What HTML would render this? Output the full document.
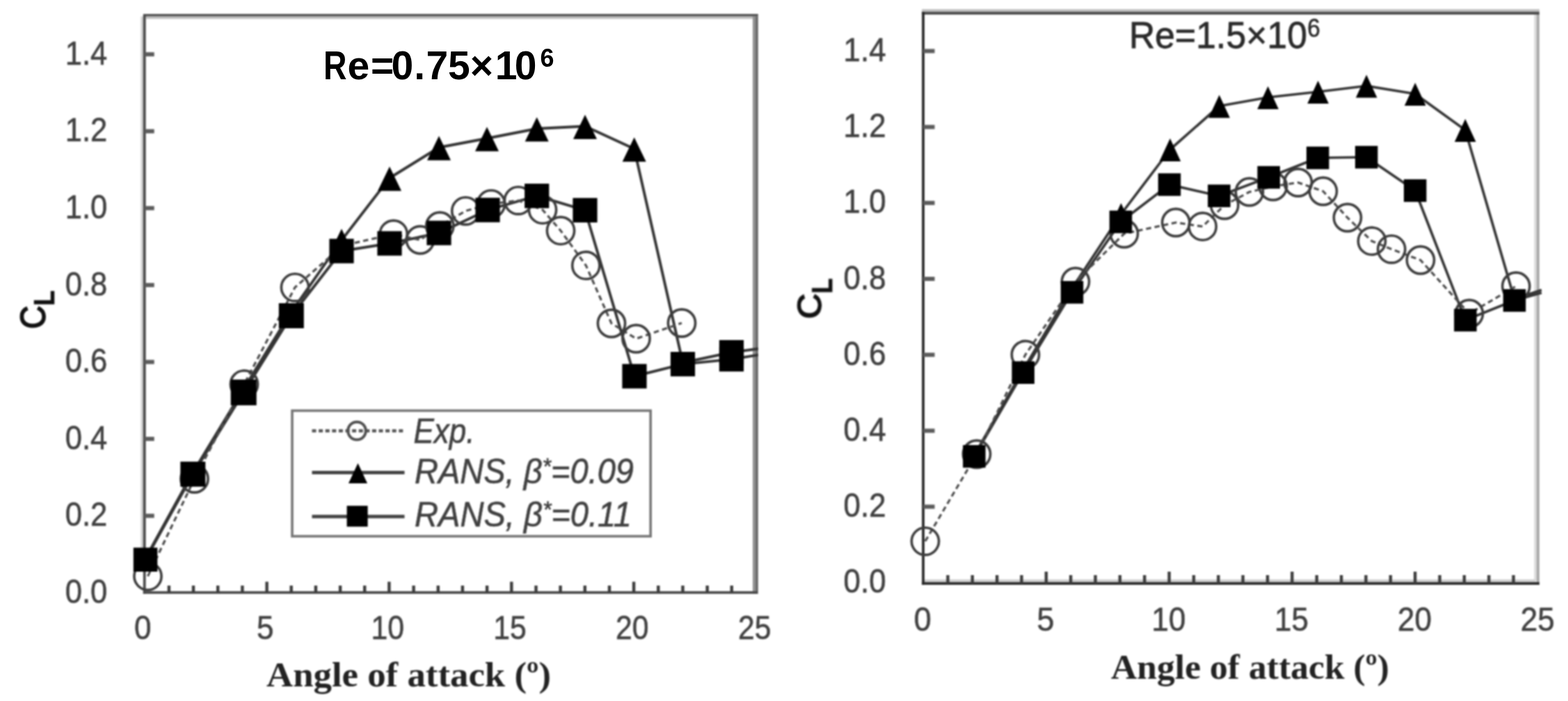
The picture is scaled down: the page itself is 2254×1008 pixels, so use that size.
<!DOCTYPE html>
<html lang="en">
<head>
<meta charset="utf-8">
<title>Lift coefficient vs angle of attack</title>
<style>
html,body{margin:0;padding:0;background:#fff;}
body{width:2254px;height:1008px;overflow:hidden;}
svg{display:block;}
.b{filter:blur(0.9px);}
</style>
</head>
<body>
<svg width="2254" height="1008" viewBox="0 0 2254 1008">
<rect x="0" y="0" width="2254" height="1008" fill="#fff"/>
<g class="b">
<rect x="202.3" y="23.7" width="3.8" height="764" fill="#d4d4d4"/>
<rect x="205.89999999999998" y="20.1" width="883.8999999999999" height="3.6" fill="#505050"/>
<rect x="209.5" y="23.7" width="872.5" height="3.5" fill="#c0c0c0"/>
<rect x="1082" y="23.7" width="3.8" height="830.1999999999999" fill="#909090"/>
<rect x="1085.8" y="23.7" width="4" height="830.1999999999999" fill="#686868"/>
<rect x="205.79999999999998" y="22.0" width="3.8" height="831.9" fill="#4a4a4a"/>
<rect x="205.79999999999998" y="850.1" width="883.0999999999999" height="3.8" fill="#4a4a4a"/>
<rect x="207.7" y="75.1" width="14" height="6" fill="#5c5c5c"/>
<text x="154.2" y="92.7" font-family='"Liberation Sans", sans-serif' font-size="48.5" font-weight="normal" font-style="normal" text-anchor="end" fill="#404040" textLength="60.5" lengthAdjust="spacingAndGlyphs" stroke="#404040" stroke-width="0.6">1.4</text>
<rect x="207.7" y="185.7" width="14" height="6" fill="#5c5c5c"/>
<text x="154.2" y="203.3" font-family='"Liberation Sans", sans-serif' font-size="48.5" font-weight="normal" font-style="normal" text-anchor="end" fill="#404040" textLength="60.5" lengthAdjust="spacingAndGlyphs" stroke="#404040" stroke-width="0.6">1.2</text>
<rect x="207.7" y="296.3" width="14" height="6" fill="#5c5c5c"/>
<text x="154.2" y="313.9" font-family='"Liberation Sans", sans-serif' font-size="48.5" font-weight="normal" font-style="normal" text-anchor="end" fill="#404040" textLength="60.5" lengthAdjust="spacingAndGlyphs" stroke="#404040" stroke-width="0.6">1.0</text>
<rect x="207.7" y="406.9" width="14" height="6" fill="#5c5c5c"/>
<text x="154.2" y="424.5" font-family='"Liberation Sans", sans-serif' font-size="48.5" font-weight="normal" font-style="normal" text-anchor="end" fill="#404040" textLength="60.5" lengthAdjust="spacingAndGlyphs" stroke="#404040" stroke-width="0.6">0.8</text>
<rect x="207.7" y="517.5" width="14" height="6" fill="#5c5c5c"/>
<text x="154.2" y="535.1" font-family='"Liberation Sans", sans-serif' font-size="48.5" font-weight="normal" font-style="normal" text-anchor="end" fill="#404040" textLength="60.5" lengthAdjust="spacingAndGlyphs" stroke="#404040" stroke-width="0.6">0.6</text>
<rect x="207.7" y="628.1" width="14" height="6" fill="#5c5c5c"/>
<text x="154.2" y="645.7" font-family='"Liberation Sans", sans-serif' font-size="48.5" font-weight="normal" font-style="normal" text-anchor="end" fill="#404040" textLength="60.5" lengthAdjust="spacingAndGlyphs" stroke="#404040" stroke-width="0.6">0.4</text>
<rect x="207.7" y="738.7" width="14" height="6" fill="#5c5c5c"/>
<text x="154.2" y="756.3" font-family='"Liberation Sans", sans-serif' font-size="48.5" font-weight="normal" font-style="normal" text-anchor="end" fill="#404040" textLength="60.5" lengthAdjust="spacingAndGlyphs" stroke="#404040" stroke-width="0.6">0.2</text>
<text x="154.2" y="866.9" font-family='"Liberation Sans", sans-serif' font-size="48.5" font-weight="normal" font-style="normal" text-anchor="end" fill="#404040" textLength="60.5" lengthAdjust="spacingAndGlyphs" stroke="#404040" stroke-width="0.6">0.0</text>
<rect x="240.7" y="842.0" width="4.4" height="10" fill="#3c3c3c"/>
<rect x="275.8" y="842.0" width="4.4" height="10" fill="#3c3c3c"/>
<rect x="311.0" y="842.0" width="4.4" height="10" fill="#3c3c3c"/>
<rect x="346.2" y="842.0" width="4.4" height="10" fill="#3c3c3c"/>
<rect x="381.4" y="836.5" width="4.4" height="15.5" fill="#3c3c3c"/>
<rect x="416.5" y="842.0" width="4.4" height="10" fill="#3c3c3c"/>
<rect x="451.7" y="842.0" width="4.4" height="10" fill="#3c3c3c"/>
<rect x="486.9" y="842.0" width="4.4" height="10" fill="#3c3c3c"/>
<rect x="522.0" y="842.0" width="4.4" height="10" fill="#3c3c3c"/>
<rect x="557.2" y="836.5" width="4.4" height="15.5" fill="#3c3c3c"/>
<rect x="592.4" y="842.0" width="4.4" height="10" fill="#3c3c3c"/>
<rect x="627.6" y="842.0" width="4.4" height="10" fill="#3c3c3c"/>
<rect x="662.7" y="842.0" width="4.4" height="10" fill="#3c3c3c"/>
<rect x="697.9" y="842.0" width="4.4" height="10" fill="#3c3c3c"/>
<rect x="733.1" y="836.5" width="4.4" height="15.5" fill="#3c3c3c"/>
<rect x="768.3" y="842.0" width="4.4" height="10" fill="#3c3c3c"/>
<rect x="803.4" y="842.0" width="4.4" height="10" fill="#3c3c3c"/>
<rect x="838.6" y="842.0" width="4.4" height="10" fill="#3c3c3c"/>
<rect x="873.8" y="842.0" width="4.4" height="10" fill="#3c3c3c"/>
<rect x="908.9" y="836.5" width="4.4" height="15.5" fill="#3c3c3c"/>
<rect x="944.1" y="842.0" width="4.4" height="10" fill="#3c3c3c"/>
<rect x="979.3" y="842.0" width="4.4" height="10" fill="#3c3c3c"/>
<rect x="1014.5" y="842.0" width="4.4" height="10" fill="#3c3c3c"/>
<rect x="1049.6" y="842.0" width="4.4" height="10" fill="#3c3c3c"/>
<text x="193.1" y="918.8" font-family='"Liberation Sans", sans-serif' font-size="48.5" font-weight="normal" font-style="normal" text-anchor="start" fill="#404040" textLength="24.5" lengthAdjust="spacingAndGlyphs" stroke="#404040" stroke-width="0.6">0</text>
<text x="369.0" y="918.8" font-family='"Liberation Sans", sans-serif' font-size="48.5" font-weight="normal" font-style="normal" text-anchor="start" fill="#404040" textLength="24.5" lengthAdjust="spacingAndGlyphs" stroke="#404040" stroke-width="0.6">5</text>
<text x="533.4" y="918.8" font-family='"Liberation Sans", sans-serif' font-size="48.5" font-weight="normal" font-style="normal" text-anchor="start" fill="#404040" textLength="47.5" lengthAdjust="spacingAndGlyphs" stroke="#404040" stroke-width="0.6">10</text>
<text x="709.2" y="918.8" font-family='"Liberation Sans", sans-serif' font-size="48.5" font-weight="normal" font-style="normal" text-anchor="start" fill="#404040" textLength="47.5" lengthAdjust="spacingAndGlyphs" stroke="#404040" stroke-width="0.6">15</text>
<text x="885.1" y="918.8" font-family='"Liberation Sans", sans-serif' font-size="48.5" font-weight="normal" font-style="normal" text-anchor="start" fill="#404040" textLength="47.5" lengthAdjust="spacingAndGlyphs" stroke="#404040" stroke-width="0.6">20</text>
<text x="1061.0" y="918.8" font-family='"Liberation Sans", sans-serif' font-size="48.5" font-weight="normal" font-style="normal" text-anchor="start" fill="#404040" textLength="47.5" lengthAdjust="spacingAndGlyphs" stroke="#404040" stroke-width="0.6">25</text>
<clipPath id="cl"><rect x="180" y="0" width="910" height="880"/></clipPath>
<g clip-path="url(#cl)">
<polyline points="208.5,804.0 276.3,681.0 347.9,562.9 416.2,452.4 491.0,345.5 560.0,256.0 631.0,212.0 700.0,199.0 771.7,185.0 841.0,181.5 911.7,214.0 981.5,521.5 1051.5,506.6 1090.0,501.5" fill="none" stroke="#343434" stroke-width="3.9" stroke-linejoin="round"/>
<polyline points="209.0,804.8 277.3,681.8 350.2,564.3 418.8,454.0 491.0,361.0 560.0,350.0 631.0,335.0 701.0,302.0 771.7,281.7 841.0,302.3 912.0,541.0 981.5,523.6 1051.5,516.6 1090.0,510.3" fill="none" stroke="#343434" stroke-width="3.9" stroke-linejoin="round"/>
<polyline points="212.5,828.6 279.5,688.5 351.0,552.5 424.0,413.3 493.0,353.0 565.7,336.7 604.0,345.0 632.3,325.0 669.3,303.3 706.0,293.3 745.0,288.3 780.0,301.7 806.0,331.7 842.3,381.7 879.0,465.0 914.5,487.0 980.0,464.5" fill="none" stroke="#4c4c4c" stroke-width="3.2" stroke-dasharray="7.5 5" stroke-linejoin="round"/>
<circle cx="212.5" cy="828.6" r="19.6" fill="none" stroke="#3c3c3c" stroke-width="3.6"/>
<circle cx="279.5" cy="688.5" r="19.6" fill="none" stroke="#3c3c3c" stroke-width="3.6"/>
<circle cx="351.0" cy="552.5" r="19.6" fill="none" stroke="#3c3c3c" stroke-width="3.6"/>
<circle cx="424.0" cy="413.3" r="19.6" fill="none" stroke="#3c3c3c" stroke-width="3.6"/>
<circle cx="565.7" cy="336.7" r="19.6" fill="none" stroke="#3c3c3c" stroke-width="3.6"/>
<circle cx="604.0" cy="345.0" r="19.6" fill="none" stroke="#3c3c3c" stroke-width="3.6"/>
<circle cx="632.3" cy="325.0" r="19.6" fill="none" stroke="#3c3c3c" stroke-width="3.6"/>
<circle cx="669.3" cy="303.3" r="19.6" fill="none" stroke="#3c3c3c" stroke-width="3.6"/>
<circle cx="706.0" cy="293.3" r="19.6" fill="none" stroke="#3c3c3c" stroke-width="3.6"/>
<circle cx="745.0" cy="288.3" r="19.6" fill="none" stroke="#3c3c3c" stroke-width="3.6"/>
<circle cx="780.0" cy="301.7" r="19.6" fill="none" stroke="#3c3c3c" stroke-width="3.6"/>
<circle cx="806.0" cy="331.7" r="19.6" fill="none" stroke="#3c3c3c" stroke-width="3.6"/>
<circle cx="842.3" cy="381.7" r="19.6" fill="none" stroke="#3c3c3c" stroke-width="3.6"/>
<circle cx="879.0" cy="465.0" r="19.6" fill="none" stroke="#3c3c3c" stroke-width="3.6"/>
<circle cx="914.5" cy="487.0" r="19.6" fill="none" stroke="#3c3c3c" stroke-width="3.6"/>
<circle cx="980.0" cy="464.5" r="19.6" fill="none" stroke="#3c3c3c" stroke-width="3.6"/>
<polygon points="491.0,329.0 508.0,364.0 474.0,364.0" fill="#000"/>
<polygon points="560.0,239.5 577.0,274.5 543.0,274.5" fill="#000"/>
<polygon points="631.0,195.5 648.0,230.5 614.0,230.5" fill="#000"/>
<polygon points="700.0,182.5 717.0,217.5 683.0,217.5" fill="#000"/>
<polygon points="771.7,168.5 788.7,203.5 754.7,203.5" fill="#000"/>
<polygon points="841.0,165.0 858.0,200.0 824.0,200.0" fill="#000"/>
<polygon points="911.7,197.5 928.7,232.5 894.7,232.5" fill="#000"/>
<rect x="191.8" y="787.5" width="34.5" height="34.5" fill="#000"/>
<rect x="259.3" y="663.8" width="36" height="36" fill="#000"/>
<rect x="331.7" y="545.8" width="37" height="37" fill="#000"/>
<rect x="400.8" y="436.0" width="36" height="36" fill="#000"/>
<rect x="473.4" y="343.4" width="35.2" height="35.2" fill="#000"/>
<rect x="542.4" y="332.4" width="35.2" height="35.2" fill="#000"/>
<rect x="613.4" y="317.4" width="35.2" height="35.2" fill="#000"/>
<rect x="683.4" y="284.4" width="35.2" height="35.2" fill="#000"/>
<rect x="754.1" y="264.1" width="35.2" height="35.2" fill="#000"/>
<rect x="823.4" y="284.7" width="35.2" height="35.2" fill="#000"/>
<rect x="894.4" y="523.4" width="35.2" height="35.2" fill="#000"/>
<rect x="963.9" y="506.0" width="35.2" height="35.2" fill="#000"/>
<rect x="1033.9" y="499.0" width="35.2" height="35.2" fill="#000"/>
<rect x="1033.9" y="489.0" width="35.2" height="35.2" fill="#000"/>
</g>
<rect x="420" y="590.5" width="515.2" height="180.6" fill="#fff" stroke="#757575" stroke-width="3.6"/>
<polyline points="448.5,619.5 581.5,619.5" fill="none" stroke="#555" stroke-width="4.6" stroke-dasharray="6 3.6" stroke-linejoin="round"/>
<circle cx="513" cy="619.5" r="12.8" fill="none" stroke="#505050" stroke-width="4"/>
<polyline points="448.5,679.5 581.5,679.5" fill="none" stroke="#444" stroke-width="5.0" stroke-linejoin="round"/>
<polygon points="514.5,666.0 528.0,695.0 501.0,695.0" fill="#000"/>
<polyline points="448.5,742.8 581.5,742.8" fill="none" stroke="#444" stroke-width="5.0" stroke-linejoin="round"/>
<rect x="498.6" y="727.3" width="30" height="30" fill="#000"/>
<text x="594.5" y="636.7" font-family='"Liberation Sans", sans-serif' font-size="50" font-weight="normal" font-style="italic" text-anchor="start" fill="#404040" textLength="88" lengthAdjust="spacingAndGlyphs" stroke="#404040" stroke-width="0.6">Exp.</text>
<text x="596" y="695.4" font-family='"Liberation Sans", sans-serif' font-size="50" font-style="italic" fill="#404040" stroke="#404040" stroke-width="0.6" textLength="315" lengthAdjust="spacingAndGlyphs">RANS, β<tspan font-size="34" dy="-13">*</tspan><tspan dy="13">=0.09</tspan></text>
<text x="596" y="757.2" font-family='"Liberation Sans", sans-serif' font-size="50" font-style="italic" fill="#404040" stroke="#404040" stroke-width="0.6" textLength="312" lengthAdjust="spacingAndGlyphs">RANS, β<tspan font-size="34" dy="-13">*</tspan><tspan dy="13">=0.11</tspan></text>
<text x="383" y="987" font-family='"Liberation Serif", serif' font-size="51" font-weight="bold" font-style="normal" text-anchor="start" fill="#222" textLength="409" lengthAdjust="spacingAndGlyphs">Angle of attack (º)</text>
<g transform="translate(65,473) rotate(-90)"><text x="0" y="0" font-family='"Liberation Sans", sans-serif' font-size="50" fill="#111" stroke="#111" stroke-width="1.8" textLength="33.5" lengthAdjust="spacingAndGlyphs">C</text><text x="33.5" y="12.3" font-family='"Liberation Sans", sans-serif' font-size="38" fill="#111" stroke="#111" stroke-width="2.4">L</text></g>
</g>
<text y="113.5" font-family='"Liberation Sans", sans-serif' font-size="57" font-weight="bold" fill="#000"><tspan x="465" textLength="33.5" lengthAdjust="spacingAndGlyphs">R</tspan><tspan x="499.4 532.9 562.6 595.2 612.4 644.0 675.7 711.7 739.8">e=0.75×10</tspan></text>
<text x="776.6" y="95.8" font-family='"Liberation Sans", sans-serif' font-size="36" font-weight="bold" fill="#000">6</text>
<g class="b">
<rect x="1325.1999999999998" y="13.2" width="887.7000000000002" height="3.8" fill="#bdbdbd"/>
<rect x="1325.1999999999998" y="17" width="887.7000000000002" height="4" fill="#4e4e4e"/>
<rect x="2205.3" y="21" width="3.6" height="819.9" fill="#dcdcdc"/>
<rect x="2208.9" y="21" width="4" height="819.9" fill="#a8a8a8"/>
<rect x="1329.0" y="833.2" width="877.9000000000001" height="4" fill="#cfcfcf"/>
<rect x="1325.1999999999998" y="17.0" width="3.8" height="823.9" fill="#2a2a2a"/>
<rect x="1325.1999999999998" y="837.1" width="887.7" height="3.8" fill="#2a2a2a"/>
<rect x="1327.1" y="70.4" width="16.5" height="6" fill="#5c5c5c"/>
<text x="1273.6" y="88.0" font-family='"Liberation Sans", sans-serif' font-size="48" font-weight="normal" font-style="normal" text-anchor="end" fill="#404040" textLength="61" lengthAdjust="spacingAndGlyphs" stroke="#404040" stroke-width="0.6">1.4</text>
<rect x="1327.1" y="179.6" width="16.5" height="6" fill="#5c5c5c"/>
<text x="1273.6" y="197.2" font-family='"Liberation Sans", sans-serif' font-size="48" font-weight="normal" font-style="normal" text-anchor="end" fill="#404040" textLength="61" lengthAdjust="spacingAndGlyphs" stroke="#404040" stroke-width="0.6">1.2</text>
<rect x="1327.1" y="288.8" width="16.5" height="6" fill="#5c5c5c"/>
<text x="1273.6" y="306.4" font-family='"Liberation Sans", sans-serif' font-size="48" font-weight="normal" font-style="normal" text-anchor="end" fill="#404040" textLength="61" lengthAdjust="spacingAndGlyphs" stroke="#404040" stroke-width="0.6">1.0</text>
<rect x="1327.1" y="398.0" width="16.5" height="6" fill="#5c5c5c"/>
<text x="1273.6" y="415.6" font-family='"Liberation Sans", sans-serif' font-size="48" font-weight="normal" font-style="normal" text-anchor="end" fill="#404040" textLength="61" lengthAdjust="spacingAndGlyphs" stroke="#404040" stroke-width="0.6">0.8</text>
<rect x="1327.1" y="507.2" width="16.5" height="6" fill="#5c5c5c"/>
<text x="1273.6" y="524.8" font-family='"Liberation Sans", sans-serif' font-size="48" font-weight="normal" font-style="normal" text-anchor="end" fill="#404040" textLength="61" lengthAdjust="spacingAndGlyphs" stroke="#404040" stroke-width="0.6">0.6</text>
<rect x="1327.1" y="616.4" width="16.5" height="6" fill="#5c5c5c"/>
<text x="1273.6" y="634.0" font-family='"Liberation Sans", sans-serif' font-size="48" font-weight="normal" font-style="normal" text-anchor="end" fill="#404040" textLength="61" lengthAdjust="spacingAndGlyphs" stroke="#404040" stroke-width="0.6">0.4</text>
<rect x="1327.1" y="725.6" width="16.5" height="6" fill="#5c5c5c"/>
<text x="1273.6" y="743.2" font-family='"Liberation Sans", sans-serif' font-size="48" font-weight="normal" font-style="normal" text-anchor="end" fill="#404040" textLength="61" lengthAdjust="spacingAndGlyphs" stroke="#404040" stroke-width="0.6">0.2</text>
<text x="1273.6" y="852.4" font-family='"Liberation Sans", sans-serif' font-size="48" font-weight="normal" font-style="normal" text-anchor="end" fill="#404040" textLength="61" lengthAdjust="spacingAndGlyphs" stroke="#404040" stroke-width="0.6">0.0</text>
<rect x="1360.3" y="827.0" width="4.4" height="12" fill="#3c3c3c"/>
<rect x="1395.6" y="827.0" width="4.4" height="12" fill="#3c3c3c"/>
<rect x="1431.0" y="827.0" width="4.4" height="12" fill="#3c3c3c"/>
<rect x="1466.3" y="827.0" width="4.4" height="12" fill="#3c3c3c"/>
<rect x="1501.7" y="822.0" width="4.4" height="17" fill="#3c3c3c"/>
<rect x="1537.0" y="827.0" width="4.4" height="12" fill="#3c3c3c"/>
<rect x="1572.4" y="827.0" width="4.4" height="12" fill="#3c3c3c"/>
<rect x="1607.7" y="827.0" width="4.4" height="12" fill="#3c3c3c"/>
<rect x="1643.1" y="827.0" width="4.4" height="12" fill="#3c3c3c"/>
<rect x="1678.5" y="822.0" width="4.4" height="17" fill="#3c3c3c"/>
<rect x="1713.8" y="827.0" width="4.4" height="12" fill="#3c3c3c"/>
<rect x="1749.2" y="827.0" width="4.4" height="12" fill="#3c3c3c"/>
<rect x="1784.5" y="827.0" width="4.4" height="12" fill="#3c3c3c"/>
<rect x="1819.9" y="827.0" width="4.4" height="12" fill="#3c3c3c"/>
<rect x="1855.2" y="822.0" width="4.4" height="17" fill="#3c3c3c"/>
<rect x="1890.6" y="827.0" width="4.4" height="12" fill="#3c3c3c"/>
<rect x="1926.0" y="827.0" width="4.4" height="12" fill="#3c3c3c"/>
<rect x="1961.3" y="827.0" width="4.4" height="12" fill="#3c3c3c"/>
<rect x="1996.7" y="827.0" width="4.4" height="12" fill="#3c3c3c"/>
<rect x="2032.0" y="822.0" width="4.4" height="17" fill="#3c3c3c"/>
<rect x="2067.4" y="827.0" width="4.4" height="12" fill="#3c3c3c"/>
<rect x="2102.7" y="827.0" width="4.4" height="12" fill="#3c3c3c"/>
<rect x="2138.1" y="827.0" width="4.4" height="12" fill="#3c3c3c"/>
<rect x="2173.4" y="827.0" width="4.4" height="12" fill="#3c3c3c"/>
<text x="1313.8" y="907.2" font-family='"Liberation Sans", sans-serif' font-size="48" font-weight="normal" font-style="normal" text-anchor="start" fill="#404040" textLength="25" lengthAdjust="spacingAndGlyphs" stroke="#404040" stroke-width="0.6">0</text>
<text x="1490.6" y="907.2" font-family='"Liberation Sans", sans-serif' font-size="48" font-weight="normal" font-style="normal" text-anchor="start" fill="#404040" textLength="25" lengthAdjust="spacingAndGlyphs" stroke="#404040" stroke-width="0.6">5</text>
<text x="1655.4" y="907.2" font-family='"Liberation Sans", sans-serif' font-size="48" font-weight="normal" font-style="normal" text-anchor="start" fill="#404040" textLength="49" lengthAdjust="spacingAndGlyphs" stroke="#404040" stroke-width="0.6">10</text>
<text x="1832.1" y="907.2" font-family='"Liberation Sans", sans-serif' font-size="48" font-weight="normal" font-style="normal" text-anchor="start" fill="#404040" textLength="49" lengthAdjust="spacingAndGlyphs" stroke="#404040" stroke-width="0.6">15</text>
<text x="2008.9" y="907.2" font-family='"Liberation Sans", sans-serif' font-size="48" font-weight="normal" font-style="normal" text-anchor="start" fill="#404040" textLength="49" lengthAdjust="spacingAndGlyphs" stroke="#404040" stroke-width="0.6">20</text>
<text x="2185.7" y="907.2" font-family='"Liberation Sans", sans-serif' font-size="48" font-weight="normal" font-style="normal" text-anchor="start" fill="#404040" textLength="49" lengthAdjust="spacingAndGlyphs" stroke="#404040" stroke-width="0.6">25</text>
<clipPath id="cr"><rect x="1300" y="0" width="917" height="880"/></clipPath>
<g clip-path="url(#cr)">
<polyline points="1400.0,655.5 1469.0,534.6 1538.4,418.6 1611.5,308.0 1682.0,215.0 1752.7,152.5 1822.7,140.0 1894.7,132.0 1964.3,123.5 2034.3,135.0 2106.3,187.0 2177.0,430.0 2216.0,417.0" fill="none" stroke="#343434" stroke-width="3.7" stroke-linejoin="round"/>
<polyline points="1400.5,656.2 1470.7,535.7 1541.0,420.3 1611.0,319.0 1681.0,265.5 1752.5,281.7 1823.7,255.0 1894.3,227.0 1964.3,226.0 2034.3,274.0 2106.5,460.3 2177.0,432.0 2216.0,421.0" fill="none" stroke="#343434" stroke-width="3.7" stroke-linejoin="round"/>
<polyline points="1330.0,778.3 1404.0,653.0 1474.0,510.0 1546.0,405.0 1616.0,336.0 1690.3,320.0 1728.7,325.7 1760.3,295.0 1796.0,276.0 1830.0,268.0 1866.0,262.5 1902.0,275.0 1937.0,313.0 1972.0,346.7 2000.3,358.3 2042.0,374.0 2112.0,451.0 2179.3,411.5" fill="none" stroke="#4c4c4c" stroke-width="3.2" stroke-dasharray="7.5 5" stroke-linejoin="round"/>
<circle cx="1330.0" cy="778.3" r="19.6" fill="none" stroke="#3c3c3c" stroke-width="3.6"/>
<circle cx="1404.0" cy="653.0" r="19.6" fill="none" stroke="#3c3c3c" stroke-width="3.6"/>
<circle cx="1474.0" cy="510.0" r="19.6" fill="none" stroke="#3c3c3c" stroke-width="3.6"/>
<circle cx="1546.0" cy="405.0" r="19.6" fill="none" stroke="#3c3c3c" stroke-width="3.6"/>
<circle cx="1616.0" cy="336.0" r="19.6" fill="none" stroke="#3c3c3c" stroke-width="3.6"/>
<circle cx="1690.3" cy="320.0" r="19.6" fill="none" stroke="#3c3c3c" stroke-width="3.6"/>
<circle cx="1728.7" cy="325.7" r="19.6" fill="none" stroke="#3c3c3c" stroke-width="3.6"/>
<circle cx="1760.3" cy="295.0" r="19.6" fill="none" stroke="#3c3c3c" stroke-width="3.6"/>
<circle cx="1796.0" cy="276.0" r="19.6" fill="none" stroke="#3c3c3c" stroke-width="3.6"/>
<circle cx="1830.0" cy="268.0" r="19.6" fill="none" stroke="#3c3c3c" stroke-width="3.6"/>
<circle cx="1866.0" cy="262.5" r="19.6" fill="none" stroke="#3c3c3c" stroke-width="3.6"/>
<circle cx="1902.0" cy="275.0" r="19.6" fill="none" stroke="#3c3c3c" stroke-width="3.6"/>
<circle cx="1937.0" cy="313.0" r="19.6" fill="none" stroke="#3c3c3c" stroke-width="3.6"/>
<circle cx="1972.0" cy="346.7" r="19.6" fill="none" stroke="#3c3c3c" stroke-width="3.6"/>
<circle cx="2000.3" cy="358.3" r="19.6" fill="none" stroke="#3c3c3c" stroke-width="3.6"/>
<circle cx="2042.0" cy="374.0" r="19.6" fill="none" stroke="#3c3c3c" stroke-width="3.6"/>
<circle cx="2112.0" cy="451.0" r="19.6" fill="none" stroke="#3c3c3c" stroke-width="3.6"/>
<circle cx="2179.3" cy="411.5" r="19.6" fill="none" stroke="#3c3c3c" stroke-width="3.6"/>
<polygon points="1611.5,292.0 1626.8,325.0 1596.2,325.0" fill="#000"/>
<polygon points="1682.0,199.0 1697.3,232.0 1666.7,232.0" fill="#000"/>
<polygon points="1752.7,136.5 1768.0,169.5 1737.4,169.5" fill="#000"/>
<polygon points="1822.7,124.0 1838.0,157.0 1807.4,157.0" fill="#000"/>
<polygon points="1894.7,116.0 1910.0,149.0 1879.4,149.0" fill="#000"/>
<polygon points="1964.3,107.5 1979.6,140.5 1949.0,140.5" fill="#000"/>
<polygon points="2034.3,119.0 2049.6,152.0 2019.0,152.0" fill="#000"/>
<polygon points="2106.3,171.0 2121.6,204.0 2091.0,204.0" fill="#000"/>
<rect x="1384.2" y="640.0" width="32.5" height="32.5" fill="#000"/>
<rect x="1454.5" y="519.5" width="32.5" height="32.5" fill="#000"/>
<rect x="1524.8" y="404.1" width="32.5" height="32.5" fill="#000"/>
<rect x="1594.8" y="302.8" width="32.5" height="32.5" fill="#000"/>
<rect x="1664.8" y="249.2" width="32.5" height="32.5" fill="#000"/>
<rect x="1736.2" y="265.4" width="32.5" height="32.5" fill="#000"/>
<rect x="1807.5" y="238.8" width="32.5" height="32.5" fill="#000"/>
<rect x="1878.0" y="210.8" width="32.5" height="32.5" fill="#000"/>
<rect x="1948.0" y="209.8" width="32.5" height="32.5" fill="#000"/>
<rect x="2018.0" y="257.8" width="32.5" height="32.5" fill="#000"/>
<rect x="2090.2" y="444.1" width="32.5" height="32.5" fill="#000"/>
<rect x="2160.8" y="415.8" width="32.5" height="32.5" fill="#000"/>
</g>
<text x="1623" y="69.2" font-family='"Liberation Sans", sans-serif' font-size="53" font-weight="normal" font-style="normal" text-anchor="start" fill="#2a2a2a" textLength="256" lengthAdjust="spacingAndGlyphs" stroke="#2a2a2a" stroke-width="0.8">Re=1.5×10</text>
<text x="1879.3" y="53.2" font-family='"Liberation Sans", sans-serif' font-size="37" font-weight="normal" font-style="normal" text-anchor="start" fill="#2a2a2a" textLength="18.5" lengthAdjust="spacingAndGlyphs" stroke="#2a2a2a" stroke-width="0.6">6</text>
<text x="1597" y="976" font-family='"Liberation Serif", serif' font-size="51" font-weight="bold" font-style="normal" text-anchor="start" fill="#222" textLength="400" lengthAdjust="spacingAndGlyphs">Angle of attack (º)</text>
<g transform="translate(1180.3,458.5) rotate(-90)"><text x="0" y="0" font-family='"Liberation Sans", sans-serif' font-size="47.5" fill="#111" stroke="#111" stroke-width="1.8" textLength="36.5" lengthAdjust="spacingAndGlyphs">C</text><text x="36.5" y="15" font-family='"Liberation Sans", sans-serif' font-size="38" fill="#111" stroke="#111" stroke-width="2.4">L</text></g>
</g>
</svg>
</body>
</html>
